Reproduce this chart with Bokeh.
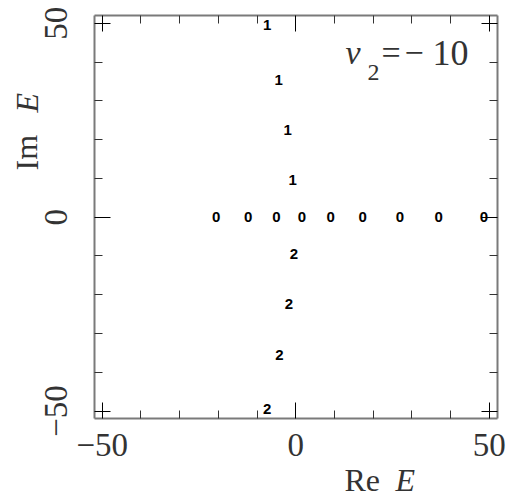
from bokeh.plotting import figure
from bokeh.models import Label, LinearAxis, FixedTicker, Range1d
from bokeh.core.properties import value
from bokeh.embed import file_html
from bokeh.resources import INLINE

# Eigenvalue positions in the complex plane, grouped by branch label
re_branch0 = [-20.6, -12.3, -5.0, 1.6, 9.0, 17.3, 26.9, 36.9, 48.6]
im_branch0 = [0, 0, 0, 0, 0, 0, 0, 0, 0]
re_branch1 = [-0.8, -2.1, -4.4, -7.4]
im_branch1 = [9.5, 22.4, 35.4, 49.5]
re_branch2 = [-0.5, -1.8, -4.2, -7.4]
im_branch2 = [-9.6, -22.4, -35.6, -49.4]

major_ticks = [-50, 0, 50]
minor_ticks = [-40, -30, -20, -10, 10, 20, 30, 40]
tick_labels = {-50: "\u221250", 0: "0", 50: "50"}
box_limits = (-52, 52)

SERIF = "Liberation Serif"
FRAME_GRAY = "#7a7a7a"
TEXT_COLOR = "#333333"

# The frame covers the whole canvas; the boxed axes sit at fixed locations
p = figure(output_backend="svg", toolbar_location=None,
           frame_width=511, frame_height=500,
           x_range=Range1d(-76.30, 55.74), y_range=Range1d(-73.07, 55.89),
           x_axis_location=None, y_axis_location=None,
           min_border=0)
p.grid.visible = False
p.outline_line_color = None
p.background_fill_color = "white"
p.border_fill_color = "white"


def make_axis(location, show_labels, standoff, orientation="horizontal"):
    ax = LinearAxis(ticker=FixedTicker(ticks=major_ticks, minor_ticks=minor_ticks),
                    fixed_location=location, bounds=box_limits)
    ax.axis_line_color = FRAME_GRAY
    ax.axis_line_width = 2
    ax.major_tick_in = 16
    ax.major_tick_out = 0
    ax.minor_tick_in = 8
    ax.minor_tick_out = 0
    ax.major_tick_line_color = "black"
    ax.minor_tick_line_color = "#333333"
    ax.major_tick_line_width = 1
    ax.minor_tick_line_width = 1
    ax.major_label_standoff = standoff
    ax.major_label_text_font = SERIF
    ax.major_label_text_font_size = "33px"
    ax.major_label_text_color = TEXT_COLOR
    ax.major_label_orientation = orientation
    if show_labels:
        ax.major_label_overrides = dict(tick_labels)
    else:
        ax.major_label_overrides = {t: "" for t in major_ticks}
    return ax


p.add_layout(make_axis(box_limits[0], True, 15), "below")
p.add_layout(make_axis(box_limits[0], True, 28, "vertical"), "left")
p.add_layout(make_axis(box_limits[1], False, 0), "above")
p.add_layout(make_axis(box_limits[1], False, 0), "right")

# Branch markers drawn as their digit labels
for xs, ys, tag in [(re_branch0, im_branch0, "0"),
                    (re_branch1, im_branch1, "1"),
                    (re_branch2, im_branch2, "2")]:
    p.text(x=xs, y=ys, text=[tag] * len(xs), text_align="center",
           text_baseline="middle", text_font=value("Liberation Sans"),
           text_font_style="bold", text_font_size="15px", text_color="black")


def screen_label(txt, x, y, size="32px", style="normal", angle=0.0):
    p.add_layout(Label(x=x, y=y, x_units="screen", y_units="screen", text=txt,
                       text_font=SERIF, text_font_size=size, text_font_style=style,
                       text_color=TEXT_COLOR, text_align="left",
                       text_baseline="alphabetic", angle=angle))


# Axis titles
screen_label("Re", 344, 21)
screen_label("E", 395, 21, style="italic")
screen_label("Im", 26, 330, angle=1.5708)
screen_label("E", 26, 388, style="italic", angle=1.5708)

# Parameter annotation v_2 = -10
screen_label("v", 345, 448, size="34px", style="italic")
screen_label("2", 367, 428, size="24px")
screen_label("=", 381, 448, size="34px")
screen_label("\u2212", 404, 448, size="34px")
screen_label("10", 432, 448, size="36px")

open("out.html", "w").write(file_html(p, INLINE))
